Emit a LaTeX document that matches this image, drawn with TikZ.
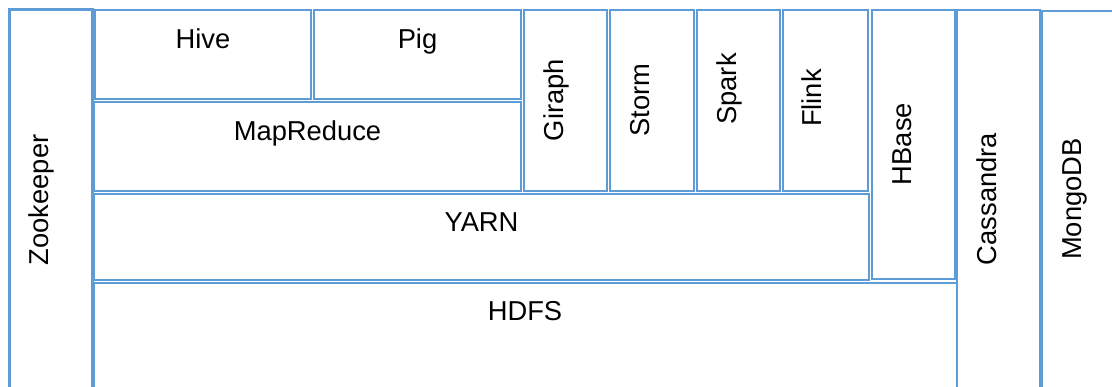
\documentclass[tikz,border=0pt]{standalone}
\usepackage{fontspec}
\setmainfont{Liberation Sans}
\definecolor{boxblue}{RGB}{93,156,214}
\begin{document}
\begin{tikzpicture}[x=0.75pt,y=-0.75pt,
  layer/.style={draw=boxblue,line width=2.2pt},
  htxt/.style={anchor=base,inner sep=0pt,font=\fontsize{20.5}{24}\selectfont},
  vtxt/.style={anchor=base,inner sep=0pt,rotate=90,font=\fontsize{20.5}{24}\selectfont}]
\useasboundingbox (0,0) rectangle (1112,386);
\begin{scope}
\clip (0,0) rectangle (1112,386);
% boxes
\draw[layer] (9.5,9.5) rectangle (92.5,400);
\draw[layer] (95,10) rectangle (311,99);
\draw[layer] (314,10) rectangle (521,99);
\draw[layer] (94,102) rectangle (521,191);
\draw[layer] (524,10) rectangle (607,191);
\draw[layer] (610,10) rectangle (694,191);
\draw[layer] (697,10) rectangle (780,191);
\draw[layer] (783,10) rectangle (868,191);
\draw[layer] (94,194) rectangle (869,280);
\draw[layer] (872,10) rectangle (955,279);
\draw[layer] (94,283) rectangle (957,400);
\draw[layer] (957,10) rectangle (1040,400);
\draw[layer] (1042,11) rectangle (1125,400);
\end{scope}
% labels
\node[vtxt] (zoo) at (48,200) {Zookeeper};
\node[htxt] (hive) at (203,48) {Hive};
\node[htxt] (pig) at (417.5,48) {Pig};
\node[htxt] (mr) at (307.5,140) {MapReduce};
\node[vtxt] (giraph) at (563,100) {Giraph};
\node[vtxt] (storm) at (649,100) {Storm};
\node[vtxt] (spark) at (736,89) {Spark};
\node[vtxt] (flink) at (821,98) {Flink};
\node[htxt] (yarn) at (481.5,231) {YARN};
\node[vtxt] (hbase) at (911,144) {HBase};
\node[htxt] (hdfs) at (525,320) {HDFS};
\node[vtxt] (cass) at (996,199) {Cassandra};
\node[vtxt] (mongo) at (1081,199) {MongoDB};
\end{tikzpicture}
\end{document}
